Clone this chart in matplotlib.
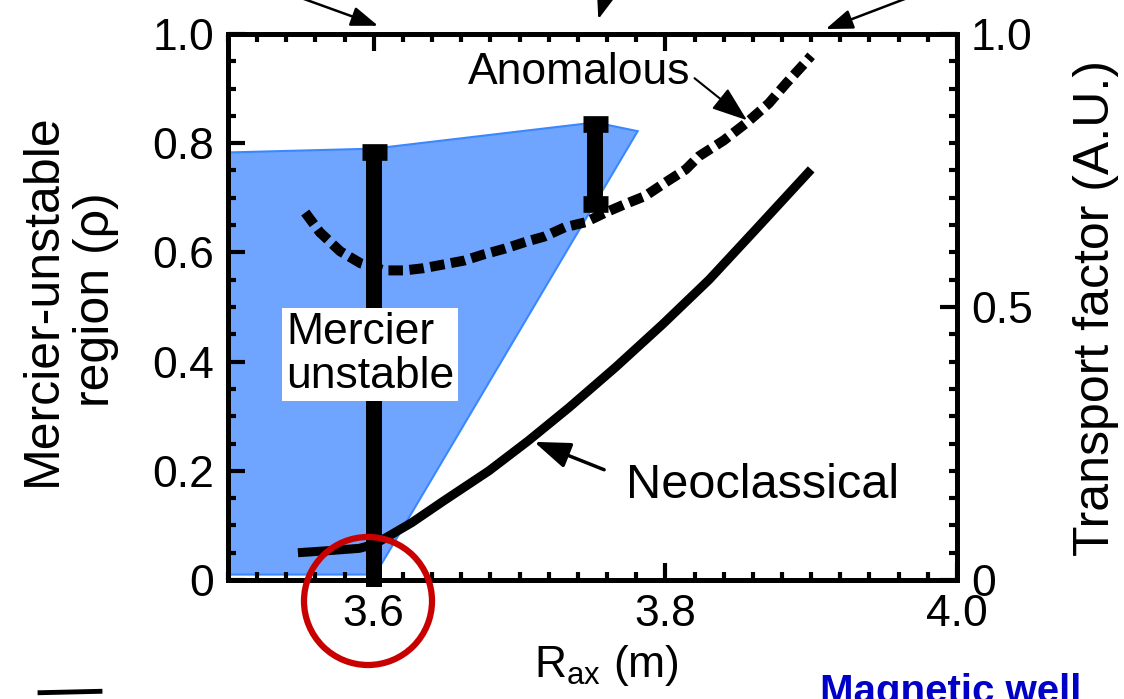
import matplotlib
matplotlib.use("Agg")
import matplotlib.pyplot as plt
from matplotlib.patches import Polygon, Ellipse
from matplotlib.lines import Line2D
from matplotlib.ticker import MultipleLocator, FuncFormatter

plt.rcParams['font.family'] = ['Liberation Sans', 'DejaVu Sans']
plt.rcParams['mathtext.fontset'] = 'custom'
plt.rcParams['mathtext.rm'] = 'Liberation Sans'
plt.rcParams['mathtext.it'] = 'Liberation Sans:italic'

# Mercier-unstable region (blue polygon)
unstable_x = [3.5, 3.6, 3.752, 3.781, 3.601, 3.5]
unstable_y = [0.783, 0.790, 0.838, 0.822, 0.010, 0.010]

# Neoclassical transport factor
neo_x = [3.548, 3.570, 3.590, 3.600, 3.610, 3.626, 3.648, 3.679, 3.706,
         3.734, 3.766, 3.798, 3.830, 3.862, 3.900]
neo_y = [0.050, 0.054, 0.058, 0.065, 0.080, 0.105, 0.145, 0.200, 0.255,
         0.316, 0.390, 0.468, 0.550, 0.642, 0.752]

# Anomalous transport factor
anom_x = [3.553, 3.563, 3.577, 3.591, 3.607, 3.621, 3.634, 3.648, 3.662,
          3.675, 3.690, 3.705, 3.717, 3.731, 3.745, 3.759, 3.772, 3.786,
          3.800, 3.814, 3.823, 3.840, 3.856, 3.871, 3.883, 3.895, 3.900]
anom_y = [0.673, 0.637, 0.602, 0.580, 0.567, 0.567, 0.571, 0.578, 0.585,
          0.596, 0.607, 0.620, 0.629, 0.646, 0.655, 0.673, 0.688, 0.703,
          0.728, 0.752, 0.776, 0.805, 0.838, 0.873, 0.910, 0.945, 0.960]

# error bars of the Mercier-unstable extent
bar_x = [3.6, 3.752]
bar_lo = [-0.013, 0.688]
bar_hi = [0.783, 0.836]
cap_x = [3.6, 3.752, 3.752]
cap_y = [0.783, 0.836, 0.688]

fig = plt.figure(figsize=(11.24, 6.99), dpi=100)
ax = fig.add_axes([0.2028, 0.1702, 0.6486, 0.7812])
ax2 = ax.twinx()

ax.add_patch(Polygon(list(zip(unstable_x, unstable_y)), closed=True,
                     facecolor='#70a5ff', edgecolor='#3a87ff', lw=1.5, zorder=1))

ax.vlines(bar_x, bar_lo, bar_hi, colors='k', lw=11.5, zorder=3, clip_on=False)
ax.plot(cap_x, cap_y, ls='none', marker='_', ms=18, mew=12, color='k', zorder=3)

ax.text(3.5976, 0.413, "Mercier\nunstable", fontsize=32, ha='center', va='center',
        multialignment='left', linespacing=1.12, zorder=5,
        bbox=dict(facecolor='white', edgecolor='none', pad=3))

ax2.plot(neo_x, neo_y, color='k', lw=6.5, solid_capstyle='butt',
         solid_joinstyle='round')
ax2.plot(anom_x, anom_y, color='k', lw=7.2, ls=(0, (1.45, 0.65)), dash_capstyle='butt')

# annotations
ax2.text(3.741, 0.908, "Anomalous", fontsize=32, ha='center', va='baseline')
ax2.annotate('', xy=(3.856, 0.842), xytext=(3.820, 0.919),
             arrowprops=dict(arrowstyle='-|>,head_length=1.1,head_width=0.4',
                             color='k', lw=1.5, shrinkA=0, shrinkB=0, mutation_scale=20))
ax2.text(3.867, 0.150, "Neoclassical", fontsize=35, ha='center', va='baseline')
ax2.annotate('', xy=(3.710, 0.253), xytext=(3.758, 0.202),
             arrowprops=dict(arrowstyle='-|>,head_length=1.1,head_width=0.4',
                             color='k', lw=2.5, shrinkA=0, shrinkB=0, mutation_scale=20))

# arrows pointing down at the top of the frame
for tip, tail in [((3.603, 1.015), (3.546, 1.07)),
                  ((3.754, 1.027), (3.759, 1.07)),
                  ((3.910, 1.009), (3.970, 1.07))]:
    ax2.annotate('', xy=tip, xytext=tail, annotation_clip=False,
                 arrowprops=dict(arrowstyle='-|>,head_length=1.1,head_width=0.4',
                                 color='k', lw=1.8, shrinkA=0, shrinkB=0,
                                 mutation_scale=15))

# axes formatting
fmt = FuncFormatter(lambda v, _: '0' if abs(v) < 1e-9 else f'{v:.1f}')
ax.set_xlim(3.5, 4.0)
ax.set_ylim(0, 1.0)
ax2.set_ylim(0, 1.0)
ax.xaxis.set_major_locator(MultipleLocator(0.2))
ax.xaxis.set_minor_locator(MultipleLocator(0.02))
ax.yaxis.set_major_locator(MultipleLocator(0.2))
ax.yaxis.set_minor_locator(MultipleLocator(0.05))
ax2.yaxis.set_major_locator(MultipleLocator(0.5))
ax2.yaxis.set_minor_locator(MultipleLocator(0.05))
ax.xaxis.set_major_formatter(FuncFormatter(lambda v, _: f'{v:.1f}'))
ax.yaxis.set_major_formatter(fmt)
ax2.yaxis.set_major_formatter(fmt)

ax.tick_params(which='both', direction='in', top=True, right=False, width=3,
               labelsize=32)
ax.tick_params(which='major', length=12)
ax.tick_params(which='minor', length=6)
ax.tick_params(axis='x', pad=10)
ax.tick_params(axis='y', pad=10)
ax2.tick_params(which='both', direction='in', width=3, labelsize=32, pad=10)
ax2.tick_params(which='major', length=12)
ax2.tick_params(which='minor', length=6)
for a in (ax, ax2):
    for s in a.spines.values():
        s.set_linewidth(3.5)

fig.text(0.062, 0.571, "Mercier-unstable\nregion (ρ)", rotation=90, fontsize=36,
         ha='center', va='center', multialignment='center', linespacing=1.2)
fig.text(0.975, 0.5594, "Transport factor (A.U.)", rotation=90, fontsize=36,
         ha='center', va='center')
fig.text(606 / 1124, 0.0315, r"R$_{\mathrm{ax}}$ (m)", fontsize=32,
         ha='center', va='baseline')

# partially visible decorations at the bottom
fig.text(0.7295, -0.006, "Magnetic well", fontsize=29, fontweight='bold',
         color='#0000c8', ha='left', va='baseline')
fig.add_artist(Line2D([40 / 1124, 100 / 1124], [0.009, 0.011], color='k', lw=3.5))
fig.add_artist(Ellipse((368 / 1124, 1 - 601 / 699), 128 / 1124, 128 / 699,
                       fill=False, edgecolor='#c80000', lw=4.5, zorder=10))

fig.savefig("out.png", dpi=100)
